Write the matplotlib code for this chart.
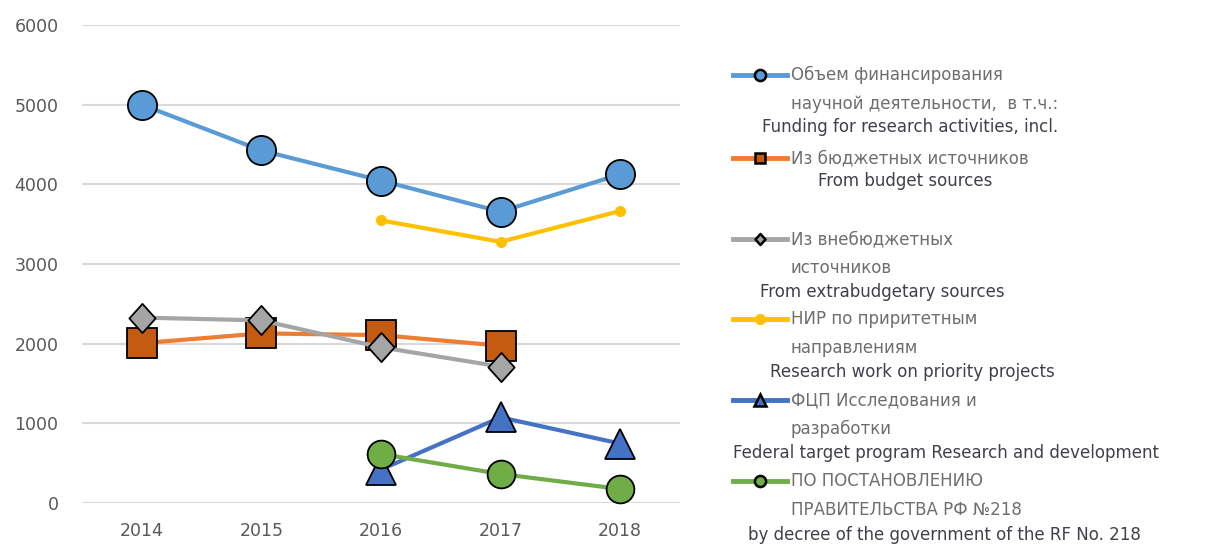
import matplotlib
matplotlib.use("Agg")
import matplotlib.pyplot as plt
from matplotlib.lines import Line2D
from matplotlib.path import Path
import numpy as np

years = ["2014", "2015", "2016", "2017", "2018"]
total = [5000, 4425, 4047, 3657, 4126]
budget = [2006, 2129, 2107, 1975, None]
extrabudget = [2327, 2292, 1954, 1712, None]
priority = [None, None, 3547, 3279, 3665]
fcp = [None, None, 420, 1075, 746]
decree218 = [None, None, 615, 364, 176]
yticks = [0, 1000, 2000, 3000, 4000, 5000, 6000]

legend_ru = [
    ["Объем финансирования", "научной деятельности,  в т.ч.:"],
    ["Из бюджетных источников"],
    ["Из внебюджетных", "источников"],
    ["НИР по приритетным", "направлениям"],
    ["ФЦП Исследования и", "разработки"],
    ["ПО ПОСТАНОВЛЕНИЮ", "ПРАВИТЕЛЬСТВА РФ №218"],
]
legend_en = [
    "Funding for research activities, incl.",
    "From budget sources",
    "From extrabudgetary sources",
    "Research work on priority projects",
    "Federal target program Research and development",
    "by decree of the government of the RF No. 218",
]

def arr(v):
    return np.array([np.nan if x is None else x for x in v], dtype=float)

W, H = 1216, 549
fig = plt.figure(figsize=(W / 100, H / 100), dpi=100)
ax = fig.add_axes([82 / W, 1 - 503 / H, (680 - 82) / W, (503 - 25) / H])

x = np.arange(len(years))
diamond = Path([(0, 1), (0.9, 0), (0, -1), (-0.9, 0), (0, 1)],
               [Path.MOVETO, Path.LINETO, Path.LINETO, Path.LINETO, Path.CLOSEPOLY])

series = [
    dict(y=total, color="#5B9BD5", marker="o", mfc="#5B9BD5", ms=21, lms=8),
    dict(y=budget, color="#ED7D31", marker="s", mfc="#C55A11", ms=21, lms=7.5),
    dict(y=extrabudget, color="#A5A5A5", marker=diamond, mfc="#A5A5A5", ms=21, lms=8),
    dict(y=priority, color="#FFC000", marker="o", mfc="#FFC000", ms=8, lms=8, noedge=True),
    dict(y=fcp, color="#4472C4", marker="^", mfc="#4472C4", ms=21, lms=8.5),
    dict(y=decree218, color="#70AD47", marker="o", mfc="#70AD47", ms=20, lms=8),
]

for i, s in enumerate(series):
    ax.plot(x, arr(s["y"]), color=s["color"], lw=3, marker=s["marker"],
            mfc=s["mfc"], mec=s["mfc"] if s.get("noedge") else "black",
            mew=0 if s.get("noedge") else 1.3, ms=s["ms"], zorder=3 + i,
            clip_on=False)

ax.set_xlim(-0.5, 4.5)
ax.set_ylim(0, 6000)
ax.set_xticks(x)
ax.set_xticklabels(years)
ax.set_yticks(yticks)
ax.tick_params(length=0, labelsize=12.5, colors="#595959")
ax.tick_params(axis="x", pad=14)
ax.tick_params(axis="y", pad=17)
ax.grid(axis="y", color="#D9D9D9", lw=1.5)
ax.set_axisbelow(True)
for sp in ax.spines.values():
    sp.set_visible(False)

# legend, drawn manually
entry_y = [75, 158, 239, 319, 400, 481]
en_x = [762, 818, 760, 770, 733, 748]
en_dy = [52, 23, 53, 53, 53, 54]
for i, s in enumerate(series):
    yy = 1 - entry_y[i] / H
    ln = Line2D([733 / W, 787 / W], [yy, yy], transform=fig.transFigure,
                color=s["color"], lw=3.5)
    fig.add_artist(ln)
    mk = Line2D([760 / W], [yy], transform=fig.transFigure, marker=s["marker"],
                mfc=s["mfc"], mec=s["mfc"] if s.get("noedge") else "black",
                mew=0 if s.get("noedge") else 1.8, ms=s["lms"], lw=0)
    fig.add_artist(mk)
    for j, line in enumerate(legend_ru[i]):
        fig.text(791 / W, 1 - (entry_y[i] + 29 * j) / H, line, fontsize=12,
                 color="#6E6E6E", va="center", ha="left")
    fig.text(en_x[i] / W, 1 - (entry_y[i] + en_dy[i]) / H, legend_en[i],
             fontsize=12, color="#40404A", va="center", ha="left")

fig.savefig("out.png", dpi=100, facecolor="white")
